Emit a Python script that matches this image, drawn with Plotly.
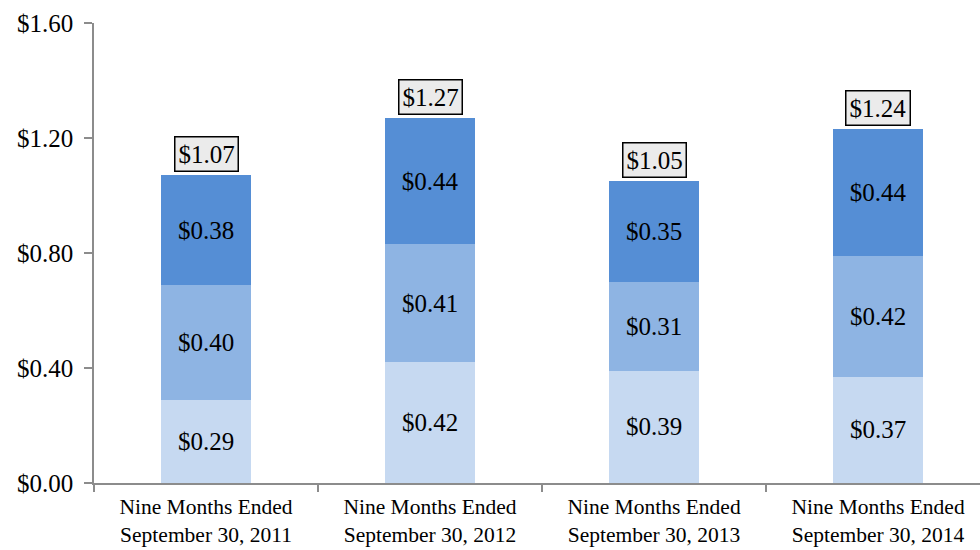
import plotly.graph_objects as go

# Periods shown on the category axis
periods = [
    "Nine Months Ended<br>September 30, 2011",
    "Nine Months Ended<br>September 30, 2012",
    "Nine Months Ended<br>September 30, 2013",
    "Nine Months Ended<br>September 30, 2014",
]

# Per-share amounts for each quarter, stacked bottom to top
q1_values = [0.29, 0.42, 0.39, 0.37]
q2_values = [0.40, 0.41, 0.31, 0.42]
q3_values = [0.38, 0.44, 0.35, 0.44]

# Reported nine-month totals
total_values = [1.07, 1.27, 1.05, 1.24]

y_ticks = [0.0, 0.4, 0.8, 1.2, 1.6]
y_tick_labels = ["$0.00", "$0.40", "$0.80", "$1.20", "$1.60"]

FONT = "Liberation Serif, Times New Roman, serif"
colors = ["#C6D9F1", "#8EB4E3", "#558ED5"]

fig = go.Figure()
for vals, col in zip([q1_values, q2_values, q3_values], colors):
    fig.add_trace(go.Bar(
        x=periods,
        y=vals,
        marker=dict(color=col, line=dict(width=0)),
        width=0.40,
        text=[f"${v:.2f}" for v in vals],
        textposition="inside",
        insidetextanchor="middle",
        textangle=0,
        constraintext="none",
        textfont=dict(family=FONT, size=25, color="black"),
        hoverinfo="skip",
        showlegend=False,
    ))

# Boxed total labels above each stack
stack_tops = [a + b + c for a, b, c in zip(q1_values, q2_values, q3_values)]
for p, top, tot in zip(periods, stack_tops, total_values):
    fig.add_annotation(
        x=p, y=top, text=f"${tot:.2f}",
        showarrow=False, yanchor="bottom", yshift=3,
        font=dict(family=FONT, size=25, color="black"),
        bgcolor="#EBEBEB", bordercolor="black", borderwidth=1.5, borderpad=3,
    )

fig.update_layout(
    width=980, height=550,
    margin=dict(l=94, r=0, t=23, b=67),
    paper_bgcolor="white", plot_bgcolor="white",
    barmode="stack",
    font=dict(family=FONT, color="black"),
)
fig.update_xaxes(
    type="category",
    range=[-0.5, 3.455],
    automargin=False,
    showline=True, linecolor="#8C8C8C", linewidth=1.5,
    ticks="outside", tickson="boundaries", ticklen=7, tickcolor="#8C8C8C", tickwidth=1.5,
    tickfont=dict(family=FONT, size=21.5, color="black"),
    ticklabelstandoff=3,
    showgrid=False, zeroline=False,
)
fig.update_yaxes(
    range=[0, 1.6],
    tickvals=y_ticks, ticktext=y_tick_labels,
    automargin=False,
    showline=True, linecolor="#8C8C8C", linewidth=1.5,
    ticks="outside", ticklen=8, tickcolor="#8C8C8C", tickwidth=1.5,
    tickfont=dict(family=FONT, size=25, color="black"),
    ticklabelstandoff=6,
    showgrid=False, zeroline=False,
)

fig.write_html("out.html")
